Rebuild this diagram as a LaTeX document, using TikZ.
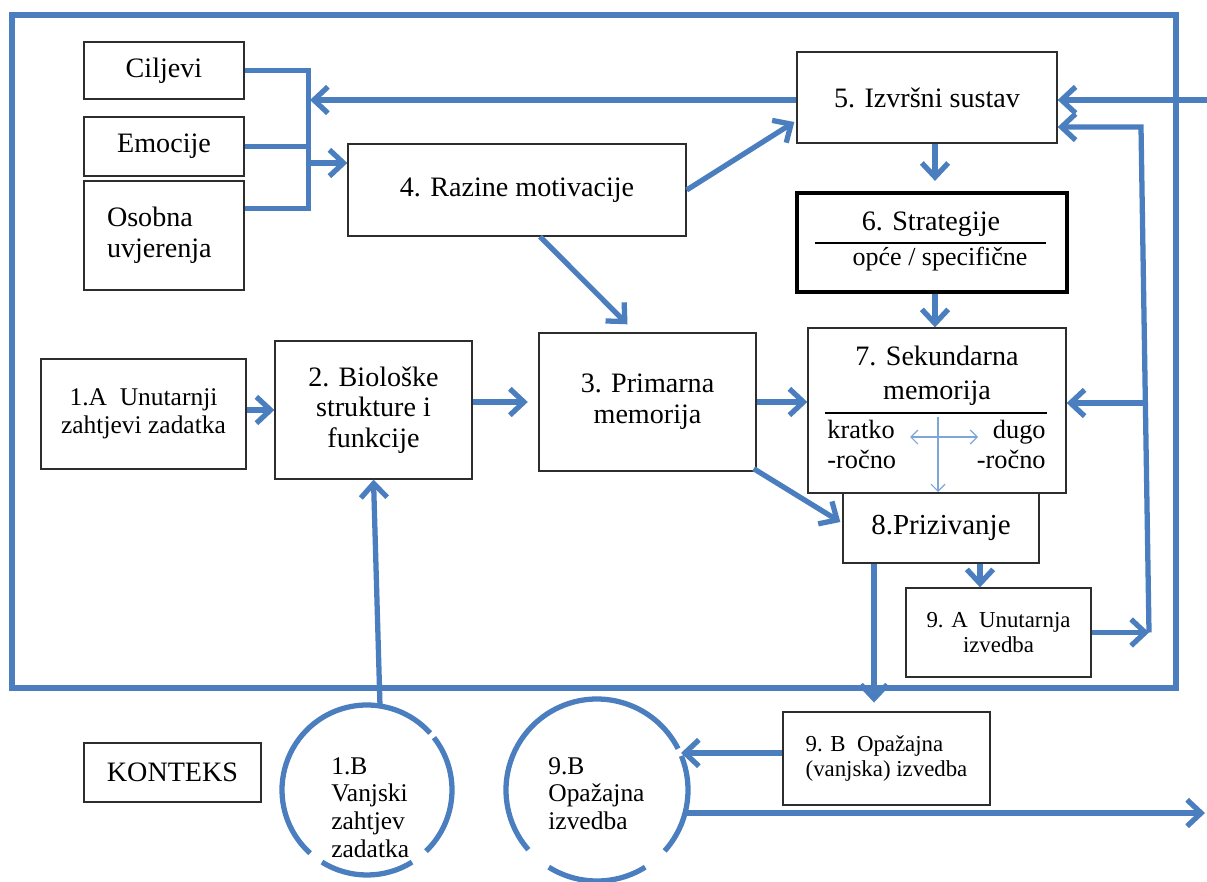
\documentclass[tikz,border=0pt]{standalone}
\usepackage{fontspec}
\setmainfont{Liberation Serif}
\usetikzlibrary{arrows.meta,calc}
\definecolor{flow}{RGB}{74,126,190}
\definecolor{fineblue}{RGB}{125,165,215}
\definecolor{boxgray}{RGB}{45,45,45}
\begin{document}
\begin{tikzpicture}[x=0.02cm,y=0.02cm,
  box/.style={draw=boxgray,line width=0.8pt,inner sep=0pt,align=center,font=\fontsize{16}{17.5}\selectfont},
  txt/.style={inner sep=0pt,font=\fontsize{16}{17.5}\selectfont},
  flowline/.style={draw=flow,line width=3pt},
  arr/.style={flowline,-{Straight Barb[length=8pt,width=15pt]}},
  fineflow/.style={draw=fineblue,line width=0.7pt},
  finearr/.style={fineflow,-{Straight Barb[length=4pt,width=8pt]}},
  finedarr/.style={fineflow,{Straight Barb[length=4pt,width=8pt]}-{Straight Barb[length=4pt,width=8pt]}},
  ]
\useasboundingbox (0,0) rectangle (1207,-882);
% outer frame
\draw[flowline] (12,-15) rectangle (1176,-688);

% boxes
\node[box,minimum width=3.2cm,minimum height=1.14cm] (cilj) at (164,-70.5) {Ciljevi};
\node[box,minimum width=3.2cm,minimum height=1.18cm] (emoc) at (164,-146.5) {Emocije};
\node[box,minimum width=3.2cm,minimum height=2.18cm,text width=2.28cm,align=left] (osob) at (164,-235.5) {Osobna\\uvjerenja};
\node[box,minimum width=6.76cm,minimum height=1.84cm] (r4) at (517,-190) {4. Razine motivacije};
\node[box,minimum width=5.2cm,minimum height=1.82cm] (r5) at (927,-97.5) {5. Izvršni sustav};
\node[draw=black,line width=1.8pt,inner sep=0pt,minimum width=5.4cm,minimum height=1.98cm] (r6) at (932,-242.5) {};
\node[txt,anchor=base] (r6a) at (931,-230) {6. Strategije};
\node[txt,anchor=base,font=\fontsize{14.8}{16}\selectfont] (r6b) at (940,-265) {opće / specifične};
\draw[black,line width=0.8pt] (815,-243) -- (1046,-243);

\node[box,minimum width=4.1cm,minimum height=2.2cm,font=\fontsize{14.5}{16}\selectfont] (r1a) at (143.5,-414) {1.A\ \ Unutarnji\\zahtjevi zadatka};
\node[box,minimum width=3.94cm,minimum height=2.76cm] (r2) at (373.5,-410) {2. Biološke\\strukture i\\funkcije};
\node[box,minimum width=4.34cm,minimum height=2.76cm] (r3) at (647.5,-402) {3. Primarna\\memorija};

\node[box,minimum width=5.16cm,minimum height=3.3cm] (r7) at (937,-410.5) {};
\node[txt,anchor=base] (r7a) at (937,-365) {7. Sekundarna};
\node[txt,anchor=base] (r7b) at (937,-399) {memorija};
\draw[black,line width=0.8pt] (825,-413) -- (1047,-413);
\node[txt,anchor=base west,font=\fontsize{15}{16}\selectfont] (k1) at (827,-438) {kratko};
\node[txt,anchor=base west,font=\fontsize{15}{16}\selectfont] (k2) at (827,-468) {-ročno};
\node[txt,anchor=base east,font=\fontsize{15}{16}\selectfont] (d1) at (1046,-438) {dugo};
\node[txt,anchor=base east,font=\fontsize{15}{16}\selectfont] (d2) at (1046,-468) {-ročno};
\coordinate (hl) at (910,-437);
\coordinate (hr) at (978,-437);
\coordinate (vt7) at (938,-417);
\coordinate (vb7) at (938,-492);
\draw[finedarr] (hl) -- (hr);
\draw[finearr] (vt7) -- (vb7);

\node[box,minimum width=3.92cm,minimum height=1.4cm,font=\fontsize{16.5}{18}\selectfont] (r8) at (941,-528) {8.Prizivanje};
\node[box,minimum width=3.7cm,minimum height=1.78cm,font=\fontsize{13}{14.2}\selectfont] (r9a) at (998.5,-632.5) {9. A\ \ Unutarnja\\izvedba};
\node[box,minimum width=4.14cm,minimum height=1.86cm,align=left,font=\fontsize{13}{14.2}\selectfont] (r9b) at (886.5,-758.5) {9. B\ \ Opažajna\\(vanjska) izvedba};
\node[box,minimum width=3.54cm,minimum height=1.18cm] (kon) at (172.5,-772.5) {KONTEKS};

% circles
\coordinate (c1) at (367,-790);
\draw[flowline] ($(c1)+(42:85)$) arc[start angle=42,end angle=228,radius=85];
\draw[flowline] ($(c1)+(238:85)$) arc[start angle=238,end angle=302,radius=85];
\draw[flowline] ($(c1)+(314:85)$) arc[start angle=314,end angle=398,radius=85];
\node[txt,anchor=north west,align=left,font=\fontsize{14.5}{15.8}\selectfont] (t1b) at (331,-757) {1.B\\Vanjski\\zahtjev\\zadatka};

\coordinate (c9) at (597,-790);
\draw[flowline] ($(c9)+(27:91)$) arc[start angle=27,end angle=221,radius=91];
\draw[flowline] ($(c9)+(238:91)$) arc[start angle=238,end angle=302,radius=91];
\draw[flowline] ($(c9)+(318:91)$) arc[start angle=318,end angle=382,radius=91];
\node[txt,anchor=north west,align=left,font=\fontsize{14.5}{15.8}\selectfont] (t9b) at (548,-757) {9.B\\Opažajna\\izvedba};

% left bus
\coordinate (bus) at (310,-100);
\coordinate (bus2) at (308,-163);
\draw[flowline] (cilj.east) -| ($(osob.east)+(64,27)$) -- ($(osob.east)+(0,27)$);
\draw[flowline] (emoc.east) -- (emoc.east -| bus2);
\draw[arr] (bus -| r5.west) -- (bus);
\draw[arr] (bus2) -- (bus2 -| r4.west);

% motivation arrows
\draw[arr] (r4.east) -- ($(r5.west)+(-2,-24.5)$);
\draw[arr] ($(r4.south)+(23,0)$) -- ($(r3.north)+(-20,8)$);

% 5 -> 6 -> 7
\coordinate (a56) at ($(r5.south)+(8,0)$);
\draw[arr,shorten >=6pt] (a56) -- (a56 |- r6.north);
\coordinate (a67) at ($(r6.south)+(3,0)$);
\draw[arr] (a67) -- (a67 |- r7.north);

% main row
\draw[arr] (r2.west -| r1a.east) -- (r2.west);
\draw[arr,shorten >=6pt] (r3.west -| r2.east) -- (r3.west);
\draw[arr] (r3.east) -- (r3.east -| r7.west);
\draw[arr] ($(r3.south east)+(-3,3)$) -- ($(r8.west)+(-2,6)$);

% 8 -> 9A, 9B
\coordinate (p89) at ($(r8.south)+(-67,0)$);
\draw[arr,shorten >=5pt] (p89) -- (p89 |- r9b.north);
\coordinate (p8a) at ($(r8.south)+(39,0)$);
\draw[arr] (p8a) -- (p8a |- r9a.north);

% feedback loop on right
\coordinate (vb) at (1149,-632.5);
\coordinate (vt) at (1141,-127);
\coordinate (vm) at (1144,-403);
\draw[arr] (r9a.east) -- (vb);
\draw[arr] (vb) -- (vt) -- (vt -| r5.east);
\draw[arr] (vm) -- (vm -| r7.east);
\coordinate (inR) at (1207,-100);
\draw[arr] (inR) -- (inR -| r5.east);

% external
\coordinate (c1in) at (380,-706);
\draw[arr] (c1in) -- (r2.south);
\coordinate (c9in) at (681,-753);
\draw[arr] (r9b.west |- c9in) -- (c9in);
\coordinate (c9out) at (686,-813);
\coordinate (outR) at (1205,-813);
\draw[arr] (c9out) -- (outR);
\end{tikzpicture}
\end{document}
